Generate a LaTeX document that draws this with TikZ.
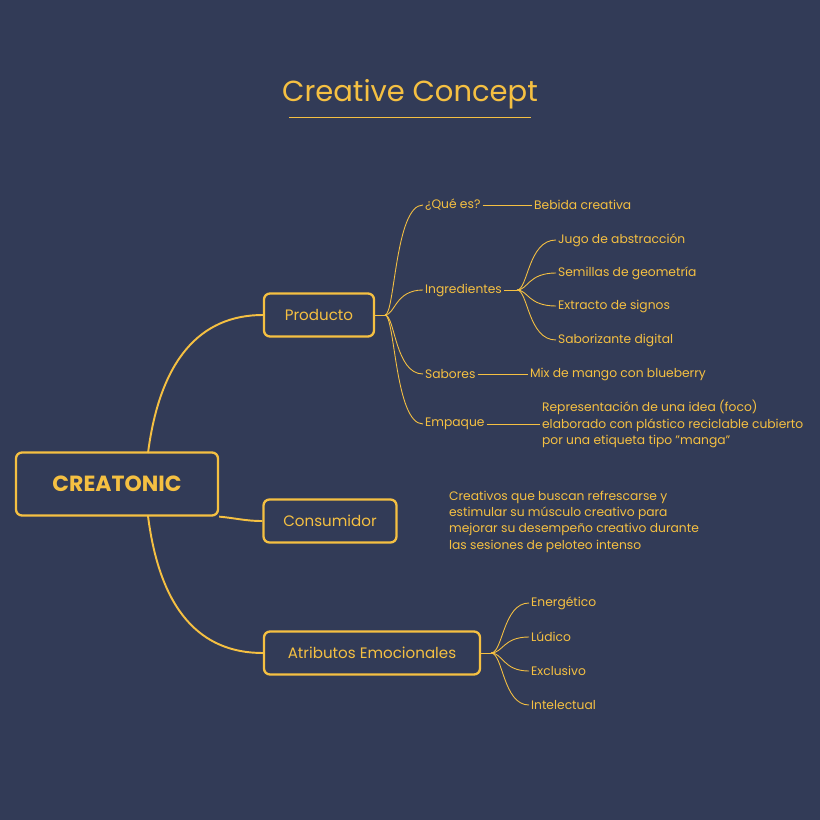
\documentclass[tikz,border=0pt]{standalone}
\usepackage{fontspec}
\setmainfont{Poppins}
\definecolor{color_bg}{HTML}{323B57}
\definecolor{color_gold}{HTML}{F5C042}
\def\leafsize{\fontsize{7}{9.2}\selectfont}

\begin{document}
\begin{tikzpicture}[x=0.02cm,y=-0.02cm,
    mainbox/.style={draw=color_gold, line width=1.3pt, rounded corners=1.2mm, text=color_gold, font=\fontsize{8.6}{10}\selectfont, inner sep=0pt},
    leaf/.style={text=color_gold, font=\leafsize, anchor=west, inner sep=1pt, align=left},
    wire/.style={draw=color_gold, line width=1.1pt},
    twig/.style={draw=color_gold, line width=0.5pt}]
        \fill[color_bg] (0,0) rectangle (820,820);
        \useasboundingbox (0,0) rectangle (820,820);

        % title
        \node[text=color_gold, font=\fontsize{16.5}{20}\selectfont] (title) at (410,94) {Creative Concept};
        \draw[twig] (289,117) -- (531,117);

        % main boxes
        \node[mainbox, minimum width=202*0.02cm, minimum height=63*0.02cm, font=\fontsize{12.5}{15}\selectfont\bfseries] (creatonic) at (117,484) {CREATONIC};
        \node[mainbox, minimum width=110*0.02cm, minimum height=43*0.02cm] (producto) at (319,315) {Producto};
        \node[mainbox, minimum width=133*0.02cm, minimum height=43*0.02cm] (consumidor) at (330,521) {Consumidor};
        \node[mainbox, minimum width=216*0.02cm, minimum height=43*0.02cm] (atributos) at (372,653) {Atributos Emocionales};

        \draw[wire] (148,453) .. controls (160,360) and (200,315) .. (producto.west);
        \draw[wire] (creatonic.south east) .. controls (235,518) and (245,521) .. (consumidor.west);
        \draw[wire] (148,516) .. controls (160,610) and (200,653) .. (atributos.west);

        % producto branch
        \coordinate (pfork) at (385,315);
        \draw[twig] (producto.east) -- (pfork);
        \foreach \n/\y/\s in {quees/205/¿Qué es?, ingred/290/Ingredientes, sabores/374/Sabores, empaque/424/Empaque}{
            \node[leaf] (\n) at (423,\y) {\s};
            \draw[twig] (pfork) .. controls (395,315) and (395,\y) .. (\n.west);
        }

        \node[leaf] (bebida) at (532,205) {Bebida creativa};
        \draw[twig] (quees.east) -- (bebida.west);
        \node[leaf] (sabmix) at (528,374) {Mix de mango con blueberry};
        \draw[twig] (sabores.east) -- (sabmix.west);
        \node[leaf] (foco) at (540,424) {Representación de una idea (foco)\\elaborado con plástico reciclable cubierto\\por una etiqueta tipo "manga"};
        \draw[twig] (empaque.east) -- (foco.west);

        % ingredientes
        \coordinate (ifork) at (517,290);
        \draw[twig] (ingred.east) -- (ifork);
        \foreach \n/\y/\s in {jugo/240/Jugo de abstracción, semillas/273/Semillas de geometría, extracto/306/Extracto de signos, sabor/340/Saborizante digital}{
            \node[leaf] (\n) at (556,\y) {\s};
            \draw[twig] (ifork) .. controls (528,290) and (528,\y) .. (\n.west);
        }

        % consumidor
        \node[leaf, anchor=north west] (creativos) at (447,489) {Creativos que buscan refrescarse y\\estimular su músculo creativo para\\mejorar su desempeño creativo durante\\las sesiones de peloteo intenso};

        % atributos
        \coordinate (afork) at (491,653);
        \draw[twig] (atributos.east) -- (afork);
        \foreach \n/\y/\s in {energ/603/Energético, ludico/637/Lúdico, exclu/671/Exclusivo, intel/705/Intelectual}{
            \node[leaf] (\n) at (529,\y) {\s};
            \draw[twig] (afork) .. controls (503,653) and (503,\y) .. (\n.west);
        }
\end{tikzpicture}
\end{document}
